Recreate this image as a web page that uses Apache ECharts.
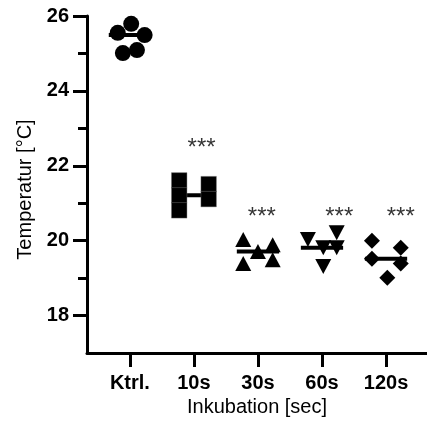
<!DOCTYPE html>
<html>
<head>
<meta charset="utf-8">
<script src="https://cdn.jsdelivr.net/npm/echarts@6/dist/echarts.min.js"></script>
<style>
  html, body { margin: 0; padding: 0; background: #fff; }
  #chart { width: 427px; height: 425px; }
</style>
</head>
<body>
<div id="chart"></div>
<script>
// groups on the x axis (positions 1..5)
const groups = ['Ktrl.', '10s', '30s', '60s', '120s'];
const yMajor = [18, 20, 22, 24, 26];
const yMinor = [19, 21, 23, 25];

// individual points per group (x includes the horizontal spread of the plot)
const ktrlX = [0.81, 1.02, 1.23, 0.89, 1.11];
const ktrlY = [25.55, 25.79, 25.49, 25.01, 25.09];
const s10X = [1.77, 1.77, 1.77, 2.23, 2.23];
const s10Y = [21.61, 21.21, 20.81, 21.51, 21.11];
const s30X = [2.77, 3.0, 3.23, 2.77, 3.23];
const s30Y = [20.03, 19.71, 19.89, 19.39, 19.49];
const s60X = [3.78, 4.23, 4.02, 4.23, 4.02];
const s60Y = [20.03, 20.21, 19.81, 19.81, 19.31];
const s120X = [4.78, 5.23, 4.78, 5.23, 5.02];
const s120Y = [20.0, 19.81, 19.52, 19.39, 19.01];

// significance marks
const starX = [2.12, 3.06, 4.27, 5.23];
const starY = [22.47, 20.63, 20.63, 20.63];

const font = 'Liberation Sans, Arial, sans-serif';

function pairs(xs, ys) {
  return xs.map((x, i) => [x, ys[i]]);
}
function median(arr) {
  const s = arr.slice().sort((a, b) => a - b);
  return s[Math.floor(s.length / 2)];
}

const medians = [ktrlY, s10Y, s30Y, s60Y, s120Y].map((ys, i) => [i + 1, median(ys)]);

function pointSeries(xs, ys, symbol, size, rotate, border) {
  return {
    type: 'scatter',
    data: pairs(xs, ys),
    symbol: symbol,
    symbolSize: size,
    symbolRotate: rotate || 0,
    itemStyle: Object.assign({ color: '#000', opacity: 1 }, border || {}),
    emphasis: { disabled: true },
    z: 3
  };
}

const chart = echarts.init(document.getElementById('chart'));

chart.setOption({
  animation: false,
  grid: { left: 87, right: 0, top: 16, bottom: 72 },
  xAxis: {
    type: 'value',
    min: 0.33,
    max: 5.64,
    name: 'Inkubation [sec]',
    nameLocation: 'middle',
    nameGap: 40,
    nameTextStyle: { fontSize: 20, color: '#000', fontFamily: font },
    splitLine: { show: false },
    axisLine: { lineStyle: { color: '#000', width: 3 } },
    axisTick: { customValues: [1, 2, 3, 4, 5], length: 14, lineStyle: { color: '#000', width: 3 } },
    axisLabel: {
      customValues: [1, 2, 3, 4, 5],
      formatter: v => groups[Math.round(v) - 1],
      margin: 20,
      fontSize: 20,
      fontWeight: 'bold',
      color: '#000',
      fontFamily: font
    }
  },
  yAxis: [
    {
      type: 'value',
      min: 17,
      max: 26,
      name: 'Temperatur [°C]',
      nameLocation: 'middle',
      nameGap: 51,
      nameTextStyle: { fontSize: 20, color: '#000', fontFamily: font, padding: [0, 10, 0, 0] },
      splitLine: { show: false },
      axisLine: { show: true, lineStyle: { color: '#000', width: 3 } },
      axisTick: { customValues: yMajor, length: 14, lineStyle: { color: '#000', width: 3 } },
      axisLabel: {
        customValues: yMajor,
        margin: 18,
        fontSize: 20,
        fontWeight: 'bold',
        color: '#000',
        fontFamily: font
      }
    },
    {
      type: 'value',
      min: 17,
      max: 26,
      position: 'left',
      splitLine: { show: false },
      axisLine: { show: false },
      axisTick: { customValues: yMinor, length: 9, lineStyle: { color: '#000', width: 3 } },
      axisLabel: { show: false }
    }
  ],
  series: [
    {
      type: 'custom',
      data: medians,
      renderItem: function (params, api) {
        const x = api.value(0);
        const y = api.value(1);
        const a = api.coord([x - 0.33, y]);
        const b = api.coord([x + 0.33, y]);
        return {
          type: 'line',
          shape: { x1: a[0], y1: a[1], x2: b[0], y2: b[1] },
          style: { stroke: '#000', lineWidth: 4 }
        };
      },
      z: 2
    },
    pointSeries(ktrlX, ktrlY, 'circle', 16),
    pointSeries(s10X, s10Y, 'rect', 15.5, 0, { borderColor: '#777', borderWidth: 0.4 }),
    pointSeries(s30X, s30Y, 'triangle', [16, 15]),
    pointSeries(s60X, s60Y, 'triangle', [16, 15], 180),
    pointSeries(s120X, s120Y, 'diamond', 16),
    {
      type: 'scatter',
      data: pairs(starX, starY),
      symbolSize: 0,
      label: {
        show: true,
        position: 'inside',
        formatter: '***',
        fontSize: 24,
        color: '#000',
        fontFamily: font
      },
      emphasis: { disabled: true },
      z: 4
    }
  ]
});
</script>
</body>
</html>
